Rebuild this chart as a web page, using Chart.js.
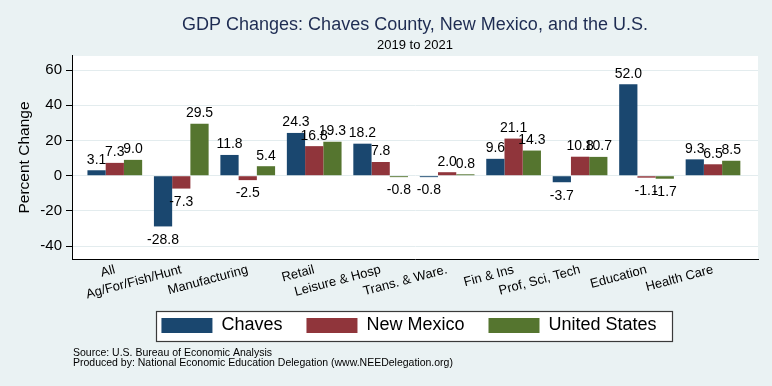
<!DOCTYPE html>
<html>
<head>
<meta charset="utf-8">
<script src="https://cdn.jsdelivr.net/npm/chart.js@4/dist/chart.umd.min.js"></script>
<style>
  html, body { margin: 0; padding: 0; background: #eaf2f3; }
  #wrap { width: 772px; height: 386px; position: relative; }
</style>
</head>
<body>
<div id="wrap"><canvas id="c" width="772" height="386"></canvas></div>
<script>
const categories = ["All", "Ag/For/Fish/Hunt", "Manufacturing", "Retail", "Leisure & Hosp",
  "Trans. & Ware.", "Fin & Ins", "Prof, Sci, Tech", "Education", "Health Care"];
const chaves       = [3.1, -28.8, 11.8, 24.3, 18.2, -0.8, 9.6, -3.7, 52.0, 9.3];
const newMexico    = [7.3, -7.3, -2.5, 16.8, 7.8, 2.0, 21.1, 10.8, -1.1, 6.5];
const unitedStates = [9.0, 29.5, 5.4, 19.3, -0.8, 0.8, 14.3, 10.7, -1.7, 8.5];
const yTicks = [-40, -20, 0, 20, 40, 60];
const seriesNames = ["Chaves", "New Mexico", "United States"];
const seriesColors = ["#1a476f", "#90353b", "#55752f"];
const titleText = "GDP Changes: Chaves County, New Mexico, and the U.S.";
const subtitleText = "2019 to 2021";
const yTitle = "Percent Change";
const footerLines = ["Source: U.S. Bureau of Economic Analysis",
  "Produced by: National Economic Education Delegation (www.NEEDelegation.org)"];

const FONT = "'Liberation Sans', Arial, Helvetica, sans-serif";
Chart.defaults.font.family = FONT;
Chart.defaults.color = '#000';

const seriesValues = [chaves, newMexico, unitedStates];
const toPoints = arr => arr.map((v, i) => ({ x: i, y: v }));

const LEGEND_SHIFT = -6;

const bgPlugin = {
  id: 'bg',
  afterLayout(chart) {
    const lg = chart.legend;
    if (lg) { lg.left += LEGEND_SHIFT; lg.right += LEGEND_SHIFT; }
    // let rotated category labels extend below the (compact) axis box without clipping
    const xs = chart.scales.x;
    if (xs) { xs.bottom = chart.height; }
  },
  beforeDraw(chart) {
    const ctx = chart.ctx, a = chart.chartArea;
    ctx.save();
    ctx.fillStyle = '#eaf2f3';
    ctx.fillRect(0, 0, chart.width, chart.height);
    ctx.fillStyle = '#ffffff';
    ctx.fillRect(a.left, a.top, a.right - a.left, a.bottom - a.top);
    const lg = chart.legend;
    if (lg && lg.lineWidths) {
      const pad = lg.options.labels.padding;
      const lw = lg.lineWidths[0];
      const itemsLeft = (lg.left + pad + lg.right - lw) / 2;
      const itemsRight = itemsLeft + lw - pad;
      const top = lg.top + pad;
      const x = Math.round(itemsLeft - 5.5) + 0.5;
      const y = Math.round(top - 6) + 0.5;
      const w = Math.round(itemsRight + 15.5 - x);
      const h = 30;
      ctx.fillStyle = '#ffffff';
      ctx.fillRect(x, y, w, h);
      ctx.strokeStyle = '#3a3a3a';
      ctx.lineWidth = 1.2;
      ctx.strokeRect(x, y, w, h);
    }
    ctx.restore();
  }
};

const labelPlugin = {
  id: 'vals',
  afterDatasetsDraw(chart) {
    const ctx = chart.ctx;
    ctx.save();
    ctx.font = "14px " + FONT;
    ctx.fillStyle = '#000';
    ctx.textAlign = 'center';
    ctx.textBaseline = 'middle';
    chart.data.datasets.forEach((ds, di) => {
      const meta = chart.getDatasetMeta(di);
      meta.data.forEach((bar, j) => {
        const v = seriesValues[di][j];
        const y = v >= 0 ? bar.y - 10.5 : bar.y + 13.5;
        ctx.fillText(v.toFixed(1), bar.x, y);
      });
    });
    ctx.restore();
  }
};

const footerPlugin = {
  id: 'footer',
  afterDraw(chart) {
    const ctx = chart.ctx;
    ctx.save();
    ctx.font = "10.5px " + FONT;
    ctx.fillStyle = '#000';
    ctx.textAlign = 'left';
    ctx.textBaseline = 'middle';
    ctx.fillText(footerLines[0], 73, 353);
    ctx.fillText(footerLines[1], 73, 363.5);
    ctx.restore();
  }
};

new Chart(document.getElementById('c'), {
  type: 'bar',
  data: {
    datasets: seriesNames.map((name, i) => ({
      label: name,
      data: toPoints(seriesValues[i]),
      backgroundColor: seriesColors[i],
      borderWidth: 0
    }))
  },
  options: {
    responsive: false,
    animation: false,
    devicePixelRatio: 1,
    layout: { padding: { left: 0, right: 14, top: 0, bottom: 41.5 } },
    datasets: { bar: { categoryPercentage: 0.823, barPercentage: 1 } },
    scales: {
      x: {
        type: 'linear',
        min: -0.644,
        max: 9.677,
        offset: false,
        grid: { display: false, drawTicks: false },
        border: { display: true, color: '#000', width: 1 },
        afterBuildTicks: s => { s.ticks = categories.map((c, i) => ({ value: i })); },
        afterFit: s => { s.height = 33.5; },
        ticks: {
          autoSkip: false, minRotation: 15, maxRotation: 15, padding: 3,
          font: { size: 13 }, color: '#000',
          callback: v => categories[v]
        }
      },
      y: {
        min: -47.3,
        max: 68,
        afterBuildTicks: s => { s.ticks = yTicks.map(v => ({ value: v })); },
        afterFit: s => { s.width = 72; },
        grid: { color: '#e3ecee', tickColor: '#000', tickLength: 6, drawTicks: true, lineWidth: 1 },
        border: { color: '#000', width: 1 },
        ticks: { padding: 4, font: { size: 15 }, color: '#000' },
        title: { display: true, text: yTitle, font: { size: 15.5 }, color: '#000', padding: { top: 15.7, bottom: 0 } }
      }
    },
    plugins: {
      title: {
        display: true, text: titleText, fullSize: false, color: '#1e2c52',
        font: { size: 18, weight: 'normal' }, padding: { top: 14, bottom: 2 }
      },
      subtitle: {
        display: true, text: subtitleText, fullSize: false, color: '#000',
        font: { size: 13 }, padding: { top: 0, bottom: 2.8 }
      },
      legend: {
        position: 'bottom', fullSize: false,
        labels: { boxWidth: 51, boxHeight: 15, padding: 24, font: { size: 18 }, color: '#000' }
      },
      tooltip: { enabled: false }
    }
  },
  plugins: [bgPlugin, labelPlugin, footerPlugin]
});
</script>
</body>
</html>
